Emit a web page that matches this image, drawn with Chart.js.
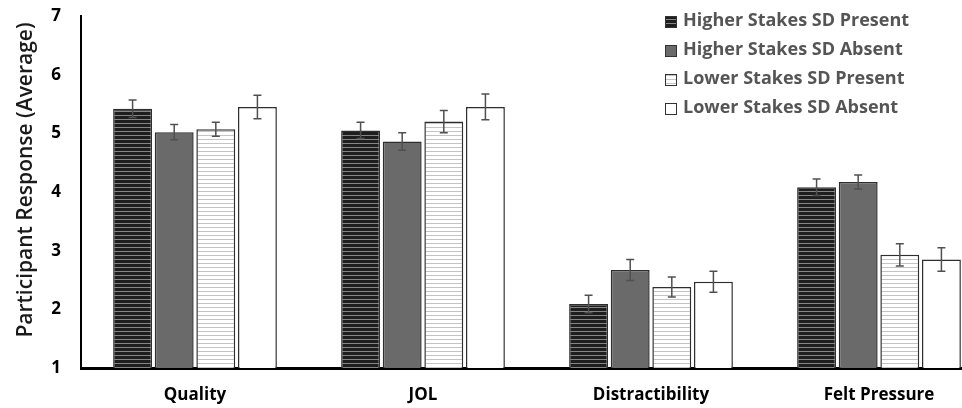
<!DOCTYPE html>
<html>
<head>
<meta charset="utf-8">
<script src="https://cdn.jsdelivr.net/npm/chart.js@4.4.1/dist/chart.umd.min.js"></script>
<style>
html, body { margin: 0; padding: 0; overflow: hidden; background: #fff; width: 962px; height: 408px; }
#wrap { position: absolute; left: 0; top: 0; width: 1000px; height: 408px; }
</style>
</head>
<body>
<div id="wrap"><canvas id="c" width="1000" height="408"></canvas></div>
<script>
// ---- data ----
const categories = ['Quality', 'JOL', 'Distractibility', 'Felt Pressure'];
const seriesNames = ['Higher Stakes SD Present', 'Higher Stakes SD Absent', 'Lower Stakes SD Present', 'Lower Stakes SD Absent'];
const higherPresent    = [5.42, 5.05, 2.09, 4.08];
const higherPresentErr = [0.15, 0.14, 0.15, 0.14];
const higherAbsent     = [5.02, 4.86, 2.67, 4.17];
const higherAbsentErr  = [0.13, 0.15, 0.18, 0.12];
const lowerPresent     = [5.07, 5.20, 2.38, 2.93];
const lowerPresentErr  = [0.12, 0.19, 0.17, 0.19];
const lowerAbsent      = [5.45, 5.45, 2.47, 2.85];
const lowerAbsentErr   = [0.20, 0.22, 0.18, 0.20];
const yTicks = [1, 2, 3, 4, 5, 6, 7];
const yTitle = 'Participant Response (Average)';

// ---- patterns ----
function stripe(base, line) {
  const p = document.createElement('canvas');
  p.width = 4; p.height = 4;
  const g = p.getContext('2d');
  g.fillStyle = base; g.fillRect(0, 0, 4, 4);
  g.fillStyle = line; g.fillRect(0, 3, 4, 1);
  return document.getElementById('c').getContext('2d').createPattern(p, 'repeat');
}
const fills = [
  stripe('#1e1e1e', '#858585'),
  '#6a6a6a',
  stripe('#ffffff', '#c4c4c4'),
  '#ffffff'
];
const values = [higherPresent, higherAbsent, lowerPresent, lowerAbsent];
const errors = [higherPresentErr, higherAbsentErr, lowerPresentErr, lowerAbsentErr];

const FONT = "'Open Sans', 'DejaVu Sans', sans-serif";

const errorBars = {
  id: 'errorBars',
  afterDatasetsDraw(chart) {
    const ctx = chart.ctx;
    const ys = chart.scales.y;
    ctx.save();
    ctx.strokeStyle = '#505050';
    ctx.lineWidth = 1.5;
    chart.data.datasets.forEach((ds, i) => {
      const meta = chart.getDatasetMeta(i);
      meta.data.forEach((el, j) => {
        const v = ds.data[j], e = errors[i][j];
        const t = ys.getPixelForValue(v + e), b = ys.getPixelForValue(v - e);
        ctx.beginPath();
        ctx.moveTo(el.x, t); ctx.lineTo(el.x, b);
        ctx.moveTo(el.x - 4, t); ctx.lineTo(el.x + 4, t);
        ctx.moveTo(el.x - 4, b); ctx.lineTo(el.x + 4, b);
        ctx.stroke();
      });
    });
    ctx.restore();
  }
};

const extras = {
  id: 'extras',
  afterDraw(chart) {
    const ctx = chart.ctx;
    ctx.save();
    // y axis title
    ctx.translate(26, 180);
    ctx.rotate(-Math.PI / 2);
    ctx.fillStyle = '#1a1a1a';
    ctx.font = '600 21px ' + FONT;
    ctx.textAlign = 'center';
    ctx.textBaseline = 'middle';
    ctx.fillText(yTitle, 0, 0);
    ctx.restore();
    // legend
    ctx.save();
    const rows = [22, 51, 80, 109];
    chart.data.datasets.forEach((ds, i) => {
      const y = rows[i];
      ctx.fillStyle = ds.backgroundColor;
      ctx.fillRect(665, y - 6, 12, 12);
      ctx.strokeStyle = '#333';
      ctx.lineWidth = 1;
      ctx.strokeRect(665.5, y - 5.5, 11, 11);
      ctx.fillStyle = '#555555';
      ctx.font = 'bold 18px ' + FONT;
      ctx.textAlign = 'left';
      ctx.textBaseline = 'middle';
      ctx.fillText(ds.label, 683, y - 1);
    });
    ctx.restore();
  }
};

new Chart(document.getElementById('c'), {
  type: 'bar',
  data: {
    labels: categories,
    datasets: seriesNames.map((n, i) => ({
      label: n,
      data: values[i],
      backgroundColor: fills[i],
      borderColor: '#2e2e2e',
      borderWidth: 1.5,
      borderSkipped: false,
      barPercentage: 0.935,
      categoryPercentage: 0.73
    }))
  },
  options: {
    responsive: false,
    animation: false,
    layout: { padding: { left: 0, right: 7, top: 0, bottom: 0 } },
    plugins: { legend: { display: false }, tooltip: { enabled: false } },
    scales: {
      x: {
        grid: { display: false, drawTicks: false },
        border: { display: true, color: '#000', width: 3 },
        ticks: { color: '#000', font: { family: FONT, size: 17, weight: 'bold' }, padding: 17 },
        afterFit(s) { s.height = 40; s.paddingLeft = 0; s.paddingRight = 0; }
      },
      y: {
        min: 1, max: 7,
        afterBuildTicks(s) { s.ticks = yTicks.map(v => ({ value: v })); },
        grid: { display: false, drawTicks: false },
        border: { display: true, color: '#000', width: 2 },
        ticks: { color: '#000', font: { family: FONT, size: 17, weight: 'bold' }, padding: 20 },
        afterFit(s) { s.width = 81; s.paddingTop = 16; s.paddingBottom = 0; }
      }
    }
  },
  plugins: [errorBars, extras]
});
</script>
</body>
</html>
